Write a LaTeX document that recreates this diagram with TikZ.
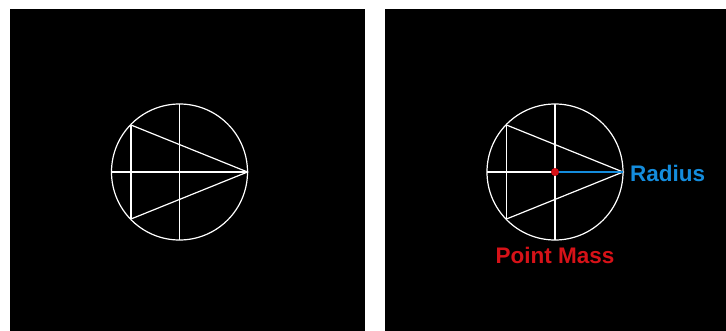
\documentclass[tikz,border=0pt]{standalone}
\usepackage{fontspec}
\setmainfont{Liberation Sans}
\definecolor{massred}{RGB}{214,18,24}
\definecolor{radblue}{RGB}{20,140,220}
\begin{document}
\begin{tikzpicture}[x=1pt,y=-1pt,
  panel/.style={fill=black},
  wire/.style={draw=white,line width=1.2pt},
  lbl/.style={font=\fontsize{22.5}{26}\selectfont\bfseries,inner sep=0pt}]
\useasboundingbox (0,0) rectangle (726,331);
\fill[white] (0,0) rectangle (726,331);
\fill[panel] (10,9) rectangle (365,331);
\fill[panel] (385,9) rectangle (726,331);
\foreach \dx/\nm in {0/l,375.5/r}{
  \begin{scope}[xshift=\dx pt]
    \coordinate (c\nm) at (179.5,172);
    \coordinate (e\nm) at (247.5,172);
    \coordinate (u\nm) at (131,125);
    \coordinate (d\nm) at (131,219);
    \draw[wire] (c\nm) circle (68);
    \draw[wire] (179.5,104) -- (179.5,240);
    \draw[wire] (111.5,172) -- (e\nm);
    \draw[wire] (u\nm) -- (d\nm);
    \draw[wire] (u\nm) -- (e\nm) -- (d\nm);
  \end{scope}
}
\draw[radblue,line width=1.6pt] (cr) -- (er);
\fill[massred] (cr) circle (4);
\node[lbl,text=radblue,anchor=west] (rad) at (630,173.5) {Radius};
\node[lbl,text=massred] (pm) at (555,255) {Point Mass};
\end{tikzpicture}
\end{document}
